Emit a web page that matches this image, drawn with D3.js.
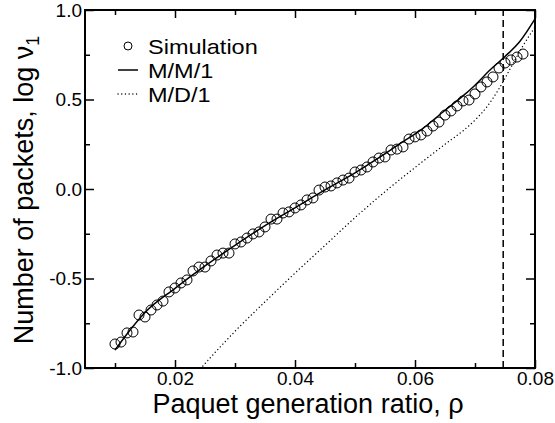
<!DOCTYPE html>
<html>
<head>
<meta charset="utf-8">
<script src="https://cdn.jsdelivr.net/npm/d3@7"></script>
<style>
  body { margin: 0; background: #fff; }
  text { font-family: "Liberation Sans", Arial, sans-serif; }
</style>
</head>
<body>
<div id="chart"></div>
<script>
// Simulation points (rho, log nu_1)
const simRho = [0.010, 0.011, 0.012, 0.013, 0.014, 0.015, 0.016, 0.017, 0.018, 0.019,
                0.020, 0.021, 0.022, 0.023, 0.024, 0.025, 0.026, 0.027, 0.028, 0.029,
                0.030, 0.031, 0.032, 0.033, 0.034, 0.035, 0.036, 0.037, 0.038, 0.039,
                0.040, 0.041, 0.042, 0.043, 0.044, 0.045, 0.046, 0.047, 0.048, 0.049,
                0.050, 0.051, 0.052, 0.053, 0.054, 0.055, 0.056, 0.057, 0.058, 0.059,
                0.060, 0.061, 0.062, 0.063, 0.064, 0.065, 0.066, 0.067, 0.068, 0.069,
                0.070, 0.071, 0.072, 0.073, 0.074, 0.075, 0.076, 0.077, 0.078];
const simLogNu = [-0.866, -0.855, -0.804, -0.799, -0.704, -0.715, -0.676, -0.648, -0.626, -0.575,
                  -0.553, -0.525, -0.508, -0.458, -0.436, -0.436, -0.402, -0.369, -0.358, -0.358,
                  -0.307, -0.296, -0.274, -0.251, -0.240, -0.212, -0.168, -0.168, -0.134, -0.128,
                  -0.106, -0.089, -0.061, -0.050, -0.006, 0.011, 0.017, 0.034, 0.050, 0.061,
                  0.095, 0.106, 0.123, 0.151, 0.173, 0.179, 0.218, 0.223, 0.235, 0.279,
                  0.291, 0.302, 0.324, 0.352, 0.374, 0.413, 0.436, 0.464, 0.492, 0.497,
                  0.531, 0.570, 0.598, 0.626, 0.676, 0.704, 0.721, 0.737, 0.754];

// M/M/1 theory curve
const mm1Rho = [0.010, 0.012, 0.015, 0.020, 0.025, 0.030, 0.035, 0.040, 0.045, 0.050,
                0.054, 0.058, 0.061, 0.065, 0.068, 0.070, 0.0725, 0.075, 0.0775, 0.080];
const mm1LogNu = [-0.90, -0.81, -0.69, -0.555, -0.43, -0.315, -0.205, -0.105, -0.005, 0.09,
                  0.175, 0.265, 0.33, 0.44, 0.52, 0.58, 0.665, 0.74, 0.825, 0.95];

// M/D/1 theory curve
const md1Rho = [0.0238, 0.030, 0.035, 0.040, 0.045, 0.050, 0.055, 0.060, 0.065, 0.068,
                0.070, 0.072, 0.074, 0.076, 0.078, 0.080];
const md1LogNu = [-1.02, -0.795, -0.63, -0.47, -0.315, -0.16, -0.015, 0.12, 0.25, 0.325,
                  0.385, 0.46, 0.56, 0.68, 0.80, 0.905];

const rhoCritical = 0.0747;

const xMajor = [0.02, 0.04, 0.06, 0.08];
const xMinor = [0.01, 0.03, 0.05, 0.07];
const yMajor = [-1.0, -0.5, 0.0, 0.5, 1.0];
const yMinor = [-0.75, -0.25, 0.25, 0.75];

const legendItems = ["Simulation", "M/M/1", "M/D/1"];

const width = 555;
const height = 423;
const margin = { top: 10, right: 20, bottom: 55, left: 85 };

const svg = d3.select("#chart")
              .append("svg")
              .attr("width", width)
              .attr("height", height);

const x = d3.scaleLinear()
            .domain([0.005, 0.08])
            .range([margin.left, width - margin.right]);

const y = d3.scaleLinear()
            .domain([-1, 1])
            .range([height - margin.bottom, margin.top]);

svg.append("clipPath")
   .attr("id", "plot-clip")
   .append("rect")
   .attr("x", margin.left)
   .attr("y", margin.top)
   .attr("width", x.range()[1] - margin.left)
   .attr("height", y.range()[0] - margin.top);

const plot = svg.append("g").attr("clip-path", "url(#plot-clip)");

// dashed critical line
plot.append("line")
    .attr("x1", x(rhoCritical))
    .attr("x2", x(rhoCritical))
    .attr("y1", y(-1))
    .attr("y2", y(1))
    .attr("stroke", "#000")
    .attr("stroke-width", 1.5)
    .attr("stroke-dasharray", "7,4");

const line = d3.line()
               .x(d => x(d[0]))
               .y(d => y(d[1]))
               .curve(d3.curveMonotoneX);

plot.append("path")
    .datum(md1Rho.map((r, i) => [r, md1LogNu[i]]))
    .attr("d", line)
    .attr("fill", "none")
    .attr("stroke", "#000")
    .attr("stroke-width", 1.3)
    .attr("stroke-linecap", "round")
    .attr("stroke-dasharray", "0.1,3.6");

plot.append("path")
    .datum(mm1Rho.map((r, i) => [r, mm1LogNu[i]]))
    .attr("d", line)
    .attr("fill", "none")
    .attr("stroke", "#000")
    .attr("stroke-width", 1.5);

plot.selectAll(".sim")
    .data(simRho.map((r, i) => [r, simLogNu[i]]))
    .enter()
    .append("circle")
    .attr("class", "sim")
    .attr("cx", d => x(d[0]))
    .attr("cy", d => y(d[1]))
    .attr("r", 5)
    .attr("fill", "none")
    .attr("stroke", "#000")
    .attr("stroke-width", 1);

// axes: ticks point inward on all four sides
function styleAxis(g) {
  g.select(".domain").remove();
  g.selectAll("line").attr("stroke-width", 1.5);
  g.selectAll("text").attr("font-size", 19).attr("fill", "#000")
   .style("font-family", "'Liberation Sans', Arial, sans-serif");
}

const yBottom = y(-1);
const xRight = x(0.08);

svg.append("g")
   .attr("transform", `translate(0, ${yBottom})`)
   .call(d3.axisBottom(x).tickValues(xMajor).tickSizeInner(-8).tickSizeOuter(0)
           .tickPadding(4).tickFormat(d3.format(".2f")))
   .call(styleAxis);
svg.append("g")
   .attr("transform", `translate(0, ${yBottom})`)
   .call(d3.axisBottom(x).tickValues(xMinor).tickSizeInner(-5).tickSizeOuter(0).tickFormat(""))
   .call(styleAxis);
svg.append("g")
   .attr("transform", `translate(0, ${margin.top})`)
   .call(d3.axisTop(x).tickValues(xMajor).tickSizeInner(-8).tickSizeOuter(0).tickFormat(""))
   .call(styleAxis);
svg.append("g")
   .attr("transform", `translate(0, ${margin.top})`)
   .call(d3.axisTop(x).tickValues(xMinor).tickSizeInner(-5).tickSizeOuter(0).tickFormat(""))
   .call(styleAxis);

svg.append("g")
   .attr("transform", `translate(${margin.left}, 0)`)
   .call(d3.axisLeft(y).tickValues(yMajor).tickSizeInner(-9).tickSizeOuter(0)
           .tickPadding(3).tickFormat(d => d.toFixed(1)))
   .call(styleAxis);
svg.append("g")
   .attr("transform", `translate(${margin.left}, 0)`)
   .call(d3.axisLeft(y).tickValues(yMinor).tickSizeInner(-5).tickSizeOuter(0).tickFormat(""))
   .call(styleAxis);
svg.append("g")
   .attr("transform", `translate(${xRight}, 0)`)
   .call(d3.axisRight(y).tickValues(yMajor).tickSizeInner(-9).tickSizeOuter(0).tickFormat(""))
   .call(styleAxis);
svg.append("g")
   .attr("transform", `translate(${xRight}, 0)`)
   .call(d3.axisRight(y).tickValues(yMinor).tickSizeInner(-5).tickSizeOuter(0).tickFormat(""))
   .call(styleAxis);

// frame
svg.append("rect")
   .attr("x", margin.left)
   .attr("y", margin.top)
   .attr("width", xRight - margin.left)
   .attr("height", yBottom - margin.top)
   .attr("fill", "none")
   .attr("stroke", "#000")
   .attr("stroke-width", 2);

// axis titles
svg.append("text")
   .attr("x", 308)
   .attr("y", 413)
   .attr("font-size", 27)
   .style("text-anchor", "middle")
   .text("Paquet generation ratio, ρ");

const yTitle = svg.append("text")
   .attr("transform", "translate(33, 190) rotate(-90)")
   .attr("font-size", 27)
   .style("text-anchor", "middle");
yTitle.append("tspan").text("Number of packets, log ν");
yTitle.append("tspan").attr("font-size", 18).attr("dy", 6).text("1");

// legend (text a little wide, as in the original)
const legend = svg.append("g").attr("transform", "translate(118, 46)");
legendItems.forEach((name, i) => {
  const g = legend.append("g").attr("transform", `translate(0, ${i * 24})`);
  if (i === 0) {
    g.append("circle").attr("cx", 10).attr("cy", 0).attr("r", 4)
     .attr("fill", "none").attr("stroke", "#000").attr("stroke-width", 1);
  } else {
    g.append("line").attr("x1", 0).attr("x2", 20).attr("y1", 0).attr("y2", 0)
     .attr("stroke", "#000")
     .attr("stroke-width", i === 1 ? 1.5 : 1.3)
     .attr("stroke-linecap", i === 1 ? "butt" : "round")
     .attr("stroke-dasharray", i === 1 ? null : "0.1,3.6");
  }
  g.append("text")
   .attr("transform", "translate(30, 8) scale(1.12, 1)")
   .attr("font-size", 21)
   .text(name);
});
</script>
</body>
</html>
